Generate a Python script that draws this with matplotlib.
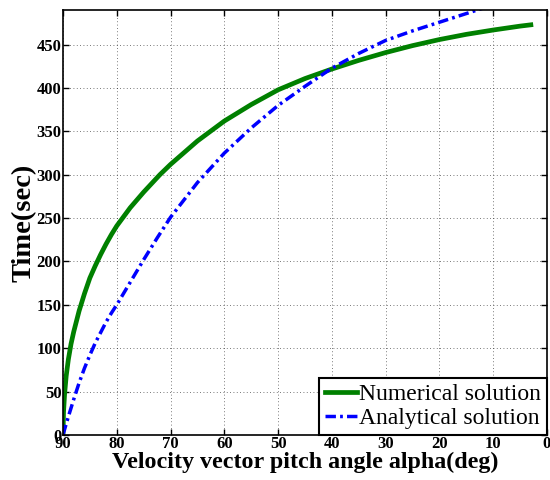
import numpy as np
import matplotlib
matplotlib.use("Agg")
import matplotlib.pyplot as plt

plt.rcParams["font.family"] = ["Liberation Serif", "DejaVu Serif"]

# 数值解：俯仰角(deg) -> 时间(sec)
alpha_num = [90, 89.9, 89.7, 89.4, 89.0, 88.5, 88, 87, 86, 85, 84, 83, 82, 81, 80,
             77.5, 75, 72, 70, 65, 60, 55, 50, 45, 40, 35, 30, 25, 20, 15, 10, 5, 3]
t_num = [0, 26, 47, 68, 87, 105, 119, 143, 163, 181, 195, 208, 220, 231, 241,
         262, 280, 300, 312, 339, 362, 381, 398, 411, 422, 432, 441, 449, 456,
         462, 467, 471.5, 473]

# 解析解
alpha_ana = [90, 89, 88, 87, 86, 85, 84, 83, 82, 81, 80, 77.5, 75, 72.5, 70,
             65, 60, 55, 50, 45, 40, 35, 30, 25, 20, 15, 12]
t_ana = [0, 21, 41, 60, 77, 92, 106, 118, 130, 140.5, 150, 176, 202, 227, 251,
         291, 325, 354, 380, 402, 423, 440, 455, 466, 476, 486, 492]

xticks = [90, 80, 70, 60, 50, 40, 30, 20, 10, 0]
yticks = [0, 50, 100, 150, 200, 250, 300, 350, 400, 450]

fig = plt.figure(figsize=(5.5, 4.8), dpi=100)
ax = fig.add_axes([0.1145, 0.094, 0.88, 0.885])

ax.plot(alpha_num, t_num, color="#008000", lw=3.4, label="Numerical solution")
ax.plot(alpha_ana, t_ana, color="#0000ff", lw=2.5, dashes=(3.0, 1.2, 0.8, 1.2),
        label="Analytical solution")

ax.set_xlim(90, 0)
ax.set_ylim(0, 490)
ax.set_xticks(xticks)
ax.set_yticks(yticks)
ax.grid(True, color="black", linestyle=(0, (1, 3)), linewidth=0.6, alpha=0.7)
ax.tick_params(direction="in", top=True, right=True, length=4, width=1,
               labelsize=12, pad=1)
for lab in ax.get_xticklabels() + ax.get_yticklabels():
    lab.set_fontweight("bold")
for sp in ax.spines.values():
    sp.set_linewidth(1.2)

ax.set_xlabel("Velocity vector pitch angle alpha(deg)", fontsize=17.3,
              fontweight="bold", labelpad=0)
ax.set_ylabel("Time(sec)", fontsize=20.5, fontweight="bold", labelpad=0)

leg = ax.legend(loc="lower right", fontsize=17, handlelength=1.35,
                handletextpad=0.1, borderpad=0.25, labelspacing=0.1,
                borderaxespad=0, fancybox=False, framealpha=1)
leg.get_frame().set_edgecolor("black")
leg.get_frame().set_linewidth(1.5)

fig.savefig("out.png", dpi=100)
